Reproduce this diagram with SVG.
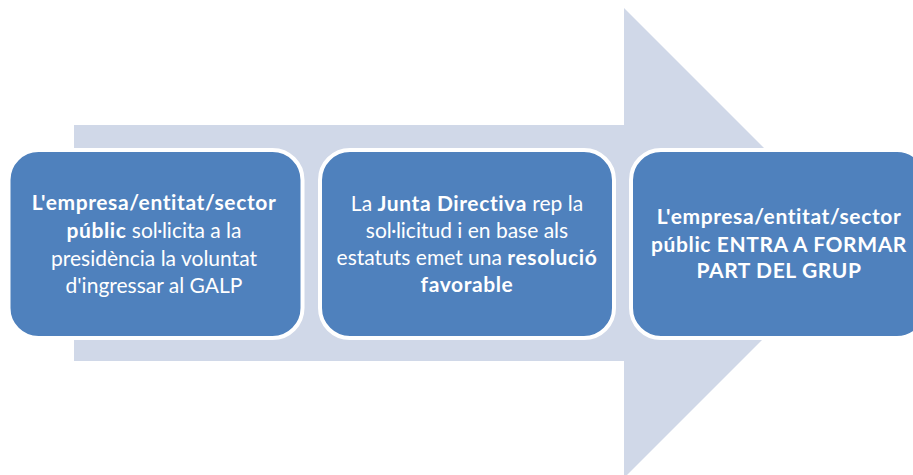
<svg xmlns="http://www.w3.org/2000/svg" width="913" height="475" viewBox="0 0 913 475">
<style>
.box{fill:#4f81bd;stroke:#ffffff;stroke-width:4}
.t{font-family:Lato,"Open Sans","Liberation Sans",sans-serif;font-size:21px;fill:#ffffff;text-anchor:middle}
.b{font-weight:bold;letter-spacing:0.6px}
</style>
<rect width="913" height="475" fill="#ffffff"/>
<g id="connectors">
<polygon points="74,125 624,125 624,8 859,243 624,478 624,361 74,361" fill="#d0d8e8"/>
</g>
<g id="node1">
<rect class="box" x="8.5" y="150" width="294" height="188" rx="30"/>
<text class="t" x="154" y="210"><tspan class="b">L'empresa/entitat/sector</tspan></text>
<text class="t" x="154" y="238"><tspan class="b">públic</tspan> sol·licita a la</text>
<text class="t" x="154" y="266">presidència la voluntat</text>
<text class="t" x="154" y="293">d'ingressar al GALP</text>
</g>
<g id="node2">
<rect class="box" x="320" y="150" width="294" height="188" rx="30"/>
<text class="t" x="467" y="211">La <tspan class="b">Junta Directiva</tspan> rep la</text>
<text class="t" x="467" y="238">sol·licitud i en base als</text>
<text class="t" x="467" y="265">estatuts emet una <tspan class="b">resolució</tspan></text>
<text class="t b" x="467" y="292">favorable</text>
</g>
<g id="node3">
<rect class="box" x="631" y="150" width="296" height="188" rx="30"/>
<text class="t b" x="779" y="224">L'empresa/entitat/sector</text>
<text class="t b" x="779" y="252">públic ENTRA A FORMAR</text>
<text class="t b" x="779" y="278">PART DEL GRUP</text>
</g>
</svg>
